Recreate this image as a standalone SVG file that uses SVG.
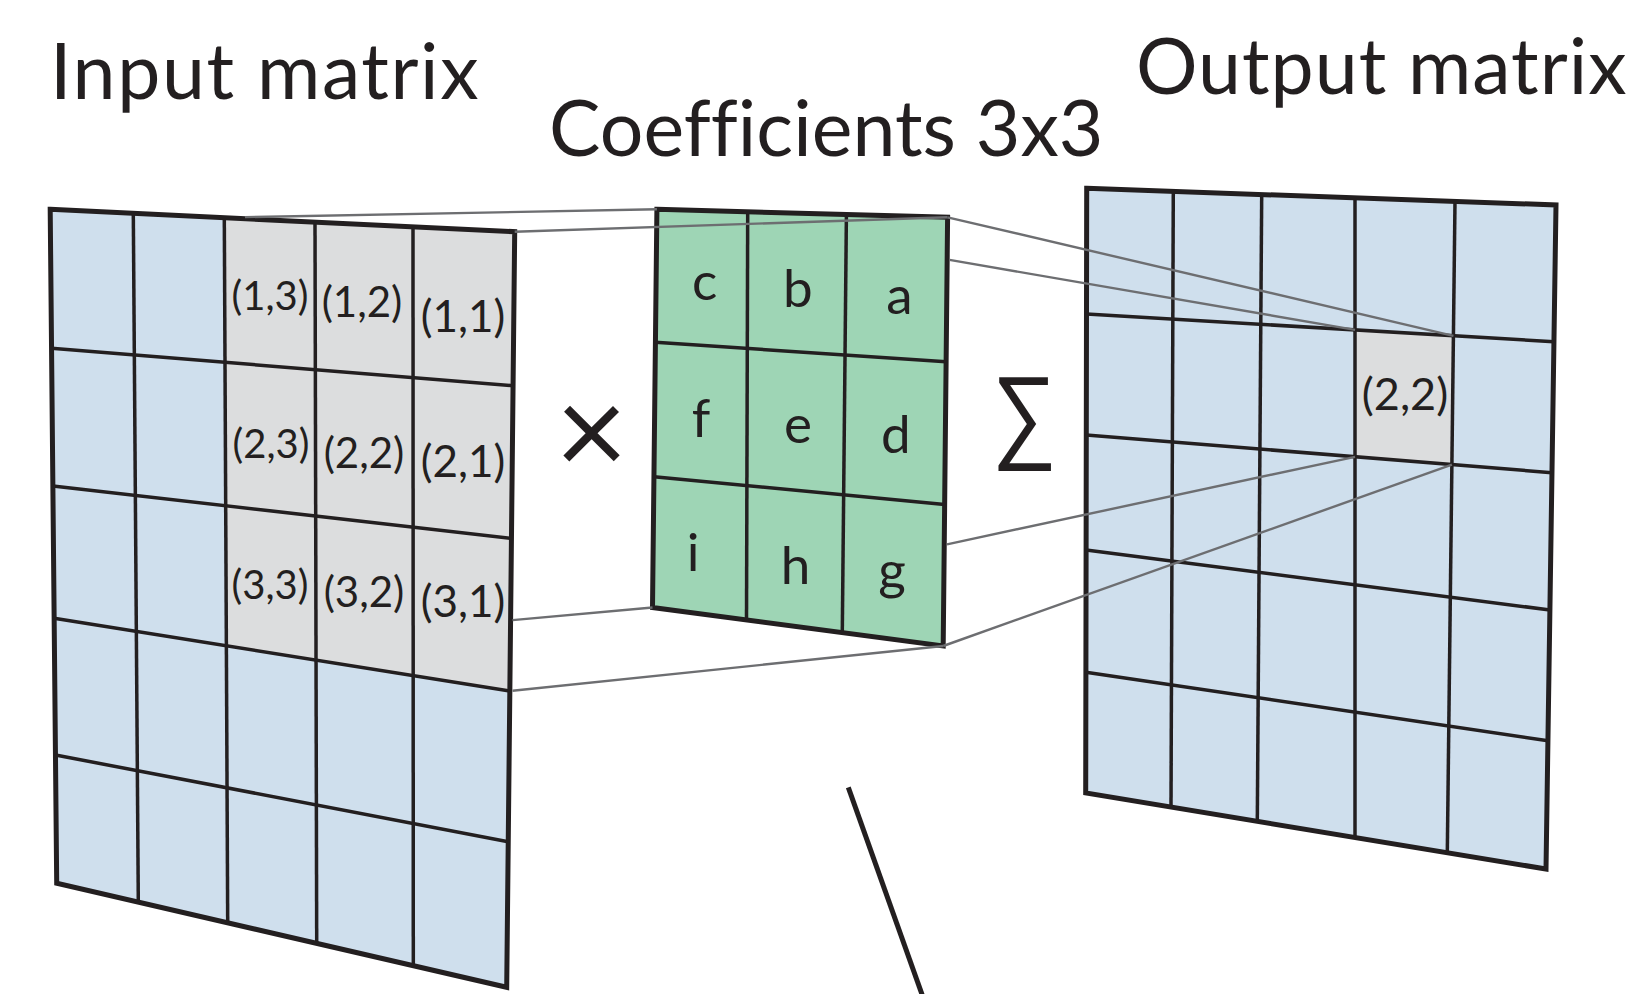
<svg xmlns="http://www.w3.org/2000/svg" width="1636" height="994" viewBox="0 0 1636 994">
<style>
.t{font-family:Lato,"Liberation Sans",sans-serif;fill:#231f20}
.title{font-size:77px}
.blue{fill:#cfdfed}
.gray{fill:#dcddde}
.green{fill:#9ed5b5}
.outer{fill:none;stroke:#231f20;stroke-width:5;stroke-linejoin:miter}
.inner{stroke:#231f20;stroke-width:3.5;fill:none}
.conn{stroke:#6d6e71;stroke-width:2.4;fill:none}
.lbl{text-anchor:middle}
</style>
<rect width="1636" height="994" fill="#ffffff"/>
<g id="titles">
<text class="t title" x="50" y="99" letter-spacing="1.6">Input matrix</text>
<text class="t title" x="549" y="156" letter-spacing="0.05">Coefficients 3x3</text>
<text class="t title" x="1136" y="94" letter-spacing="1">Output matrix</text>
</g>
<g id="input-matrix">
<polygon class="blue" points="50.2,209.3 514.7,231.7 506.7,987.3 56.7,883.3"/>
<polygon class="gray" points="224.3,217.7 514.7,231.7 509.8,691 226.4,645.8"/>
<line class="inner" x1="51.5" y1="348.3" x2="513.1" y2="385.7"/>
<line class="inner" x1="52.9" y1="486" x2="511.4" y2="538.3"/>
<line class="inner" x1="54.1" y1="618.3" x2="509.8" y2="691"/>
<line class="inner" x1="55.5" y1="755" x2="508.2" y2="841.7"/>
<line class="inner" x1="133.3" y1="213.3" x2="138.3" y2="902.2"/>
<line class="inner" x1="224.3" y1="217.7" x2="227.7" y2="922.8"/>
<line class="inner" x1="315" y1="222.1" x2="316.7" y2="943.2"/>
<line class="inner" x1="413" y1="226.8" x2="413.3" y2="965.7"/>
<polygon class="outer" points="50.2,209.3 514.7,231.7 506.7,987.3 56.7,883.3"/>
<g class="t lbl">
<text x="270" y="310" font-size="40">(1,3)</text>
<text x="362" y="317" font-size="42">(1,2)</text>
<text x="463" y="332" font-size="44">(1,1)</text>
<text x="271" y="458" font-size="40">(2,3)</text>
<text x="364" y="468" font-size="42">(2,2)</text>
<text x="463" y="477" font-size="44">(2,1)</text>
<text x="270" y="599" font-size="40">(3,3)</text>
<text x="364" y="607" font-size="42">(3,2)</text>
<text x="463" y="617" font-size="44">(3,1)</text>
</g>
</g>
<g id="coefficients">
<polygon class="green" points="656.9,209.3 947.6,217.3 943.2,646 652.5,607.5"/>
<line class="inner" x1="655.4" y1="342.3" x2="946.1" y2="361.7"/>
<line class="inner" x1="654" y1="476.7" x2="944.6" y2="504.5"/>
<line class="inner" x1="747.7" y1="211.8" x2="746.5" y2="620"/>
<line class="inner" x1="846.4" y1="214.5" x2="842.3" y2="632.6"/>
<polygon class="outer" points="656.9,209.3 947.6,217.3 943.2,646 652.5,607.5"/>
<g class="t lbl" font-size="53">
<text x="704.6" y="300">c</text>
<text x="797.9" y="306.7">b</text>
<text x="899.5" y="314">a</text>
<text x="701" y="437.3">f</text>
<text x="797.9" y="443.3">e</text>
<text x="895.9" y="453.3">d</text>
<text x="693" y="571">i</text>
<text x="795.5" y="584">h</text>
<text x="892" y="589">g</text>
</g>
</g>
<g id="output-matrix">
<polygon class="blue" points="1086.7,188.3 1556,205 1546,869 1085.7,793"/>
<polygon class="gray" points="1355,329.9 1453.4,335.8 1451.9,464.6 1355,456.8"/>
<line class="inner" x1="1086.5" y1="314" x2="1553.9" y2="341.7"/>
<line class="inner" x1="1086.3" y1="435" x2="1551.9" y2="472.7"/>
<line class="inner" x1="1086.1" y1="550" x2="1550" y2="610"/>
<line class="inner" x1="1085.9" y1="672.3" x2="1548" y2="740.7"/>
<line class="inner" x1="1173.3" y1="191.4" x2="1171" y2="807.1"/>
<line class="inner" x1="1261.7" y1="194.5" x2="1257.3" y2="821.3"/>
<line class="inner" x1="1355" y1="197.9" x2="1355" y2="837.5"/>
<line class="inner" x1="1455" y1="201.4" x2="1447.3" y2="852.7"/>
<polygon class="outer" points="1086.7,188.3 1556,205 1546,869 1085.7,793"/>
<text class="t lbl" x="1405" y="410" font-size="45">(2,2)</text>
</g>
<g id="operators">
<text class="t lbl" x="591.5" y="475" font-size="125">×</text>
<text transform="translate(1024,449) scale(0.88,1)" x="0" y="0" font-family="Liberation Sans, sans-serif" font-size="104" fill="#231f20" text-anchor="middle">∑</text>
</g>
<g id="connectors">
<line class="conn" x1="245" y1="217.1" x2="656.9" y2="209.3"/>
<line class="conn" x1="514.7" y1="231.7" x2="947.6" y2="217.3"/>
<line class="conn" x1="512.5" y1="620.1" x2="652.5" y2="607.5"/>
<line class="conn" x1="512.5" y1="690.7" x2="943.2" y2="646"/>
<line class="conn" x1="947.6" y1="217.3" x2="1453.4" y2="335.8"/>
<line class="conn" x1="949.5" y1="259.9" x2="1355" y2="329.9"/>
<line class="conn" x1="947" y1="544.3" x2="1355" y2="456.8"/>
<line class="conn" x1="943.2" y1="646" x2="1451.9" y2="464.6"/>
<line x1="848.3" y1="787.3" x2="924" y2="1000" stroke="#231f20" stroke-width="5"/>
</g>
</svg>
